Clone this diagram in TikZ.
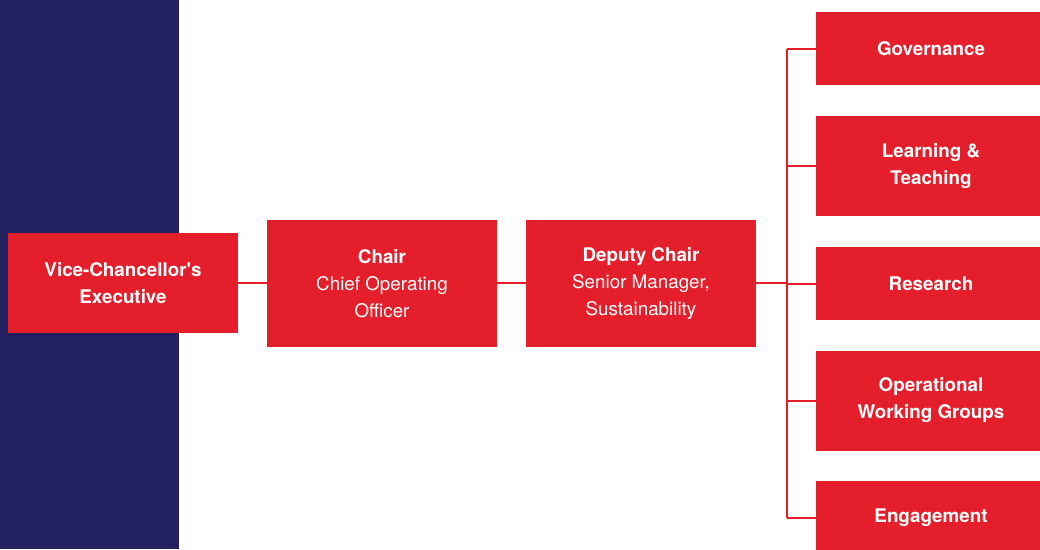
\documentclass[tikz,border=0pt]{standalone}
\usepackage{fontspec}
\setmainfont{TeX Gyre Heros}
\definecolor{uniRed}{HTML}{E41F2B}
\definecolor{uniNavy}{HTML}{22205F}

\begin{document}
\begin{tikzpicture}[x=1pt,y=-1pt,
  box/.style={fill=uniRed, text=white, minimum width=230pt, align=center, inner sep=0pt,
    font=\fontsize{18.8}{27}\selectfont},
  link/.style={draw=uniRed, line width=2pt}]
\useasboundingbox (0,0) rectangle (1040,549);
% navy band on the left
\fill[uniNavy] (0,0) rectangle (179,549);

% main chain
\node[box, minimum height=100pt] (vce) at (123,283) {\textbf{Vice-Chancellor\textquotesingle s}\\\textbf{Executive}};
\node[box, minimum height=127pt] (chair) at (382,283.5) {\textbf{Chair}\\Chief Operating\\Officer};
\node[box, minimum height=127pt] (deputy) at (641,283.5) {\textbf{Deputy Chair}\\Senior Manager,\\Sustainability};

% working groups
\node[box, minimum height=73pt] (gov) at (931,48.5) {\textbf{Governance}};
\node[box, minimum height=100pt] (lt) at (931,166) {\textbf{Learning \&}\\\textbf{Teaching}};
\node[box, minimum height=73pt] (res) at (931,283.5) {\textbf{Research}};
\node[box, minimum height=100pt] (ops) at (931,400.5) {\textbf{Operational}\\\textbf{Working Groups}};
\node[box, minimum height=73pt] (eng) at (931,517.5) {\textbf{Engagement}};

\coordinate (trunk) at (787,283);

\draw[link] (vce.east) -- (chair.west |- vce.east);
\draw[link] (chair.east |- vce.east) -- (deputy.west |- vce.east);
\draw[link] (deputy.east |- vce.east) -- (trunk);
\draw[link] (trunk |- gov.west) -- (trunk |- eng.west);
\draw[link] (trunk |- gov.west) -- (gov.west);
\draw[link] (trunk |- lt.west) -- (lt.west);
\draw[link] (trunk |- res.west) -- (res.west);
\draw[link] (trunk |- ops.west) -- (ops.west);
\draw[link] (trunk |- eng.west) -- (eng.west);
\end{tikzpicture}
\end{document}
